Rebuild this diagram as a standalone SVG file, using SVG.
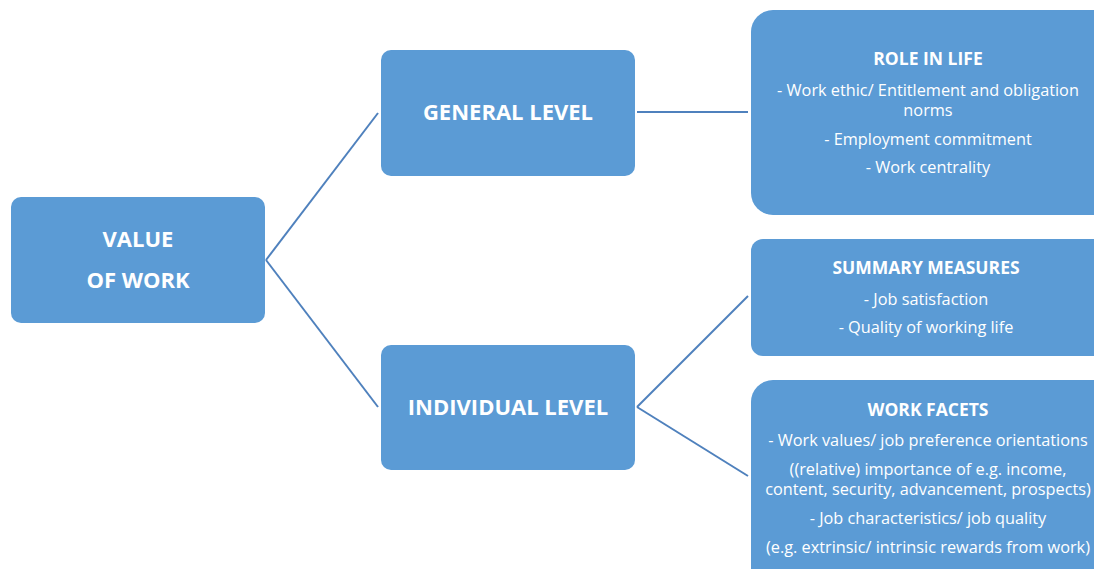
<svg xmlns="http://www.w3.org/2000/svg" width="1094" height="569" viewBox="0 0 1094 569">
  <style>
    .box { fill: #5B9BD5; }
    .link { stroke: #4F81BD; stroke-width: 2; fill: none; }
    text { font-family: "Open Sans", Lato, "Liberation Sans", sans-serif; fill: #FFFFFF; text-anchor: middle; }
    .big { font-size: 22px; font-weight: bold; }
    .head { font-size: 17.5px; font-weight: bold; }
    .item { font-size: 16.3px; }
  </style>
  <rect width="1094" height="569" fill="#FFFFFF"/>

  <g id="connectors">
    <line class="link" x1="266" y1="260" x2="378" y2="113"/>
    <line class="link" x1="266" y1="260" x2="378" y2="407"/>
    <line class="link" x1="637" y1="112" x2="748" y2="112"/>
    <line class="link" x1="637" y1="407" x2="748" y2="296"/>
    <line class="link" x1="637" y1="407" x2="748" y2="476"/>
  </g>

  <g id="value-of-work">
    <rect class="box" x="11" y="197" width="254" height="126" rx="10"/>
    <text class="big" x="138" y="247">VALUE</text>
    <text class="big" x="138" y="288">OF WORK</text>
  </g>

  <g id="general-level">
    <rect class="box" x="381" y="50" width="254" height="126" rx="10"/>
    <text class="big" x="508" y="120">GENERAL LEVEL</text>
  </g>

  <g id="individual-level">
    <rect class="box" x="381" y="345" width="254" height="125" rx="10"/>
    <text class="big" x="508" y="415">INDIVIDUAL LEVEL</text>
  </g>

  <g id="role-in-life">
    <rect class="box" x="751" y="10" width="363" height="205" rx="22"/>
    <text class="head" x="928" y="65">ROLE IN LIFE</text>
    <text class="item" x="928" y="96">- Work ethic/ Entitlement and obligation</text>
    <text class="item" x="928" y="116">norms</text>
    <text class="item" x="928" y="145">- Employment commitment</text>
    <text class="item" x="928" y="173">- Work centrality</text>
  </g>

  <g id="summary-measures">
    <rect class="box" x="751" y="239" width="363" height="117" rx="12"/>
    <text class="head" x="926" y="274">SUMMARY MEASURES</text>
    <text class="item" x="926" y="305">- Job satisfaction</text>
    <text class="item" x="926" y="333">- Quality of working life</text>
  </g>

  <g id="work-facets">
    <rect class="box" x="751" y="380" width="363" height="210" rx="22"/>
    <text class="head" x="928" y="416">WORK FACETS</text>
    <text class="item" x="928" y="446">- Work values/ job preference orientations</text>
    <text class="item" x="928" y="475">((relative) importance of e.g. income,</text>
    <text class="item" x="928" y="495">content, security, advancement, prospects)</text>
    <text class="item" x="928" y="524">- Job characteristics/ job quality</text>
    <text class="item" x="928" y="553">(e.g. extrinsic/ intrinsic rewards from work)</text>
  </g>
</svg>
